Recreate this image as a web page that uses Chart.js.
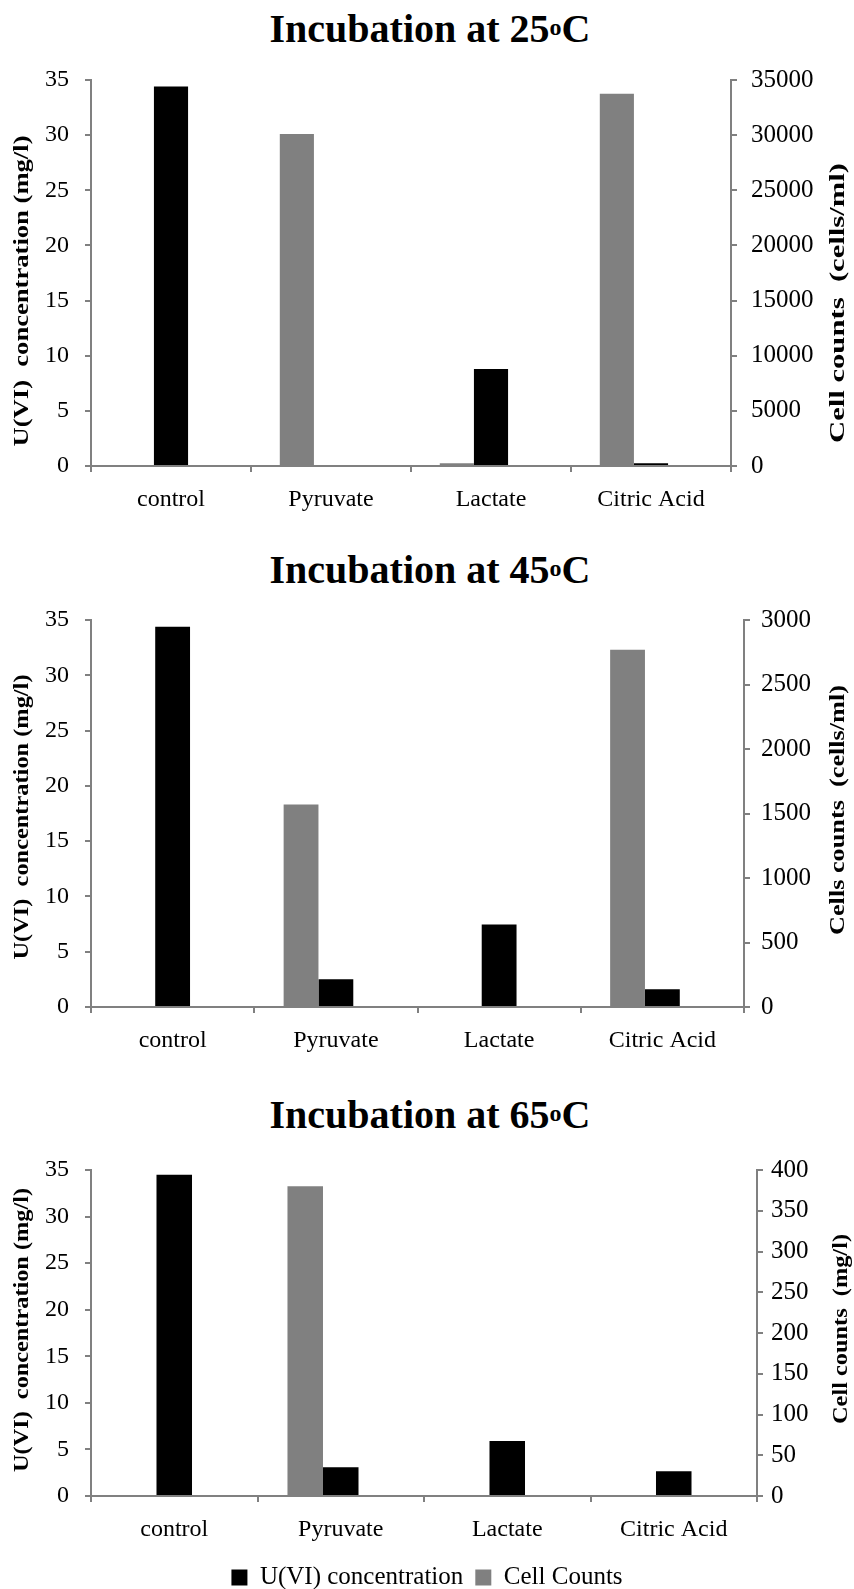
<!DOCTYPE html>
<html>
<head>
<meta charset="utf-8">
<script src="https://cdn.jsdelivr.net/npm/chart.js@4.4.1/dist/chart.umd.min.js"></script>
<style>
   html, body { margin: 0; padding: 0; background: #fff; overflow: hidden; }
   body { width: 854px; height: 1589px; position: relative; font-family: 'Liberation Serif', serif; }
   .panel { position: absolute; left: 0; width: 854px; }
   .title { position: absolute; left: 0; width: 860px; text-align: center; font-weight: bold; font-size: 40px; line-height: 42px; color: #000; }
   .title sup { font-size: 60%; vertical-align: 0.3em; }
</style>
</head>
<body>

<div class="title" style="top: 6px;">Incubation at 25<sup>o</sup>C</div>
<div class="panel" style="top: 0px; height: 530px;"><canvas id="chart25"></canvas></div>

<div class="title" style="top: 547px;">Incubation at 45<sup>o</sup>C</div>
<div class="panel" style="top: 540px; height: 530px;"><canvas id="chart45"></canvas></div>

<div class="title" style="top: 1092px;">Incubation at 65<sup>o</sup>C</div>
<div class="panel" style="top: 1090px; height: 510px;"><canvas id="chart65"></canvas></div>

<script>
// categories + values
const categories = ['control', 'Pyruvate', 'Lactate', 'Citric Acid'];

// U(VI) concentration (mg/l), left axis
const uvi25 = [34.4, 0, 8.8, 0.25];
const uvi45 = [34.4, 2.5, 7.45, 1.6];
const uvi65 = [34.5, 3.1, 5.9, 2.65];

// cell counts, right axis
const cells25 = [0, 30100, 250, 33750];
const cells45 = [0, 1570, 0, 2770];
const cells65 = [0, 380, 0, 0];

// right axis ranges
const cellMax = [35000, 3000, 400];
const cellStep = [5000, 500, 50];

const FONT = "'Liberation Serif', 'Times New Roman', serif";
const AXIS_GREY = '#808080';

// rotated axis titles reading bottom to top on both sides
const sideTitles = {
   id: 'sideTitles',
   afterDraw(chart, args, opts) {
      const ctx = chart.ctx;
      (opts.items || []).forEach(t => {
         ctx.save();
         ctx.font = 'bold ' + t.size + 'px ' + FONT;
         ctx.fillStyle = '#000';
         ctx.textAlign = 'center';
         ctx.textBaseline = 'middle';
         ctx.translate(t.x, t.y);
         ctx.rotate(-Math.PI / 2);
         const w = ctx.measureText(t.text).width;
         ctx.scale(t.length / w, 1);
         ctx.fillText(t.text, 0, 0);
         ctx.restore();
      });
   }
};

function axisGrid() {
   return { drawOnChartArea: false, color: AXIS_GREY, lineWidth: 2, tickLength: 6 };
}

function makeChart(id, uvi, cells, idx, cfg) {
   const context = document.getElementById(id).getContext('2d');
   return new Chart(context, {
      type: 'bar',
      data: {
         labels: categories,
         datasets: [
            {
               label: 'Cell Counts',
               data: cells,
               backgroundColor: '#808080',
               yAxisID: 'y1',
            },
            {
               label: 'U(VI) concentration',
               data: uvi,
               backgroundColor: '#000000',
               yAxisID: 'y',
            },
            {
               label: '',
               data: [],
               yAxisID: 'y',
            },
         ],
      },
      options: {
         responsive: true,
         maintainAspectRatio: false,
         animation: false,
         datasets: { bar: { categoryPercentage: 0.64, barPercentage: 1 } },
         layout: { padding: { top: 80, left: 0, right: 0, bottom: 0 } },
         plugins: {
            tooltip: { enabled: false },
            legend: {
               display: cfg.legend,
               position: 'bottom',
               labels: {
                  color: '#000',
                  font: { family: FONT, size: 25 },
                  boxWidth: 16,
                  boxHeight: 16,
                  padding: 12,
                  filter: item => item.text !== '',
                  sort: (a, b) => b.datasetIndex - a.datasetIndex,
               }
            },
            sideTitles: { items: cfg.titles },
         },
         scales: {
            x: {
               grid: Object.assign(axisGrid(), { offset: true }),
               border: { color: AXIS_GREY, width: 2 },
               ticks: { color: '#000', font: { family: FONT, size: 24 }, padding: 13, maxRotation: 0 },
               afterFit(scale) { scale.height = cfg.xHeight; }
            },
            y: {
               position: 'left',
               min: 0,
               max: 35,
               grid: axisGrid(),
               border: { color: AXIS_GREY, width: 2 },
               ticks: { stepSize: 5, color: '#000', font: { family: FONT, size: 24 }, padding: 16 },
               afterFit(scale) { scale.width = 91; }
            },
            y1: {
               position: 'right',
               min: 0,
               max: cellMax[idx],
               grid: axisGrid(),
               border: { color: AXIS_GREY, width: 2 },
               ticks: {
                  stepSize: cellStep[idx],
                  color: '#000',
                  font: { family: FONT, size: 25 },
                  padding: cfg.rightPad,
                  callback: v => String(v),
               },
               afterFit(scale) { scale.width = 854 - cfg.rightX; }
            },
         }
      },
      plugins: [sideTitles]
   });
}

makeChart('chart25', uvi25, cells25, 0, {
   rightX: 731, rightPad: 14, xHeight: 64, legend: false,
   titles: [
      { text: 'U(VI)  concentration (mg/l)', x: 22, y: 291, length: 311, size: 22 },
      { text: 'Cell counts  (cells/ml)', x: 838, y: 303, length: 280, size: 22 },
   ]
});

makeChart('chart45', uvi45, cells45, 1, {
   rightX: 744, rightPad: 11, xHeight: 63, legend: false,
   titles: [
      { text: 'U(VI)  concentration (mg/l)', x: 22, y: 277, length: 285, size: 22 },
      { text: 'Cells counts  (cells/ml)', x: 838, y: 270, length: 250, size: 22 },
   ]
});

makeChart('chart65', uvi65, cells65, 2, {
   rightX: 757, rightPad: 8, xHeight: 57, legend: true,
   titles: [
      { text: 'U(VI)  concentration (mg/l)', x: 22, y: 240, length: 284, size: 22 },
      { text: 'Cell counts  (mg/l)', x: 841, y: 239, length: 190, size: 22 },
   ]
});
</script>
</body>
</html>
